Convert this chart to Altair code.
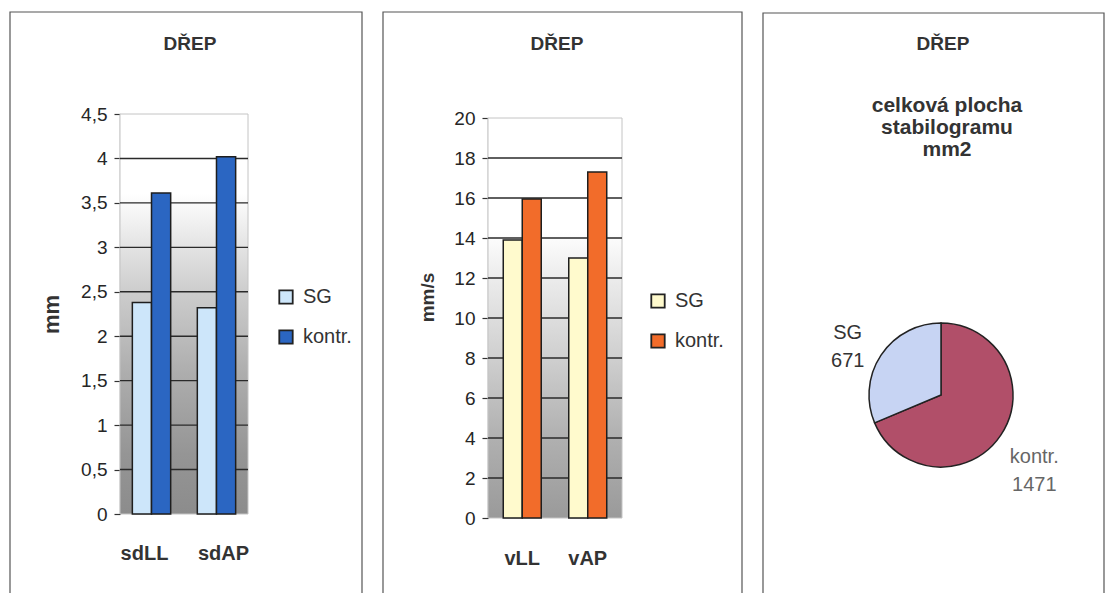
import altair as alt
import pandas as pd

FONT = "Liberation Sans"

# ---------------- data ----------------
series = ["SG", "kontr."]

p1_categories = ["sdLL", "sdAP"]
p1_sg = [2.38, 2.32]
p1_kontr = [3.61, 4.02]
p1_ticks = [0, 0.5, 1, 1.5, 2, 2.5, 3, 3.5, 4, 4.5]
p1_grid = [0.5, 1, 1.5, 2, 2.5, 3, 3.5, 4]

p2_categories = ["vLL", "vAP"]
p2_sg = [13.9, 13.0]
p2_kontr = [15.95, 17.3]
p2_ticks = [0, 2, 4, 6, 8, 10, 12, 14, 16, 18, 20]
p2_grid = [2, 4, 6, 8, 10, 12, 14, 16, 18]

pie_labels = ["kontr.", "SG"]
pie_values = [1471, 671]

panel_title = "DŘEP"
pie_subtitle = "celková plocha\nstabilogramu\nmm2"


def long_df(cats, sg, kontr):
    rows = []
    for c, a, b in zip(cats, sg, kontr):
        rows.append({"cat": c, "series": "SG", "value": a})
        rows.append({"cat": c, "series": "kontr.", "value": b})
    return pd.DataFrame(rows)


one = pd.DataFrame({"a": [0]})


def bar_panel(cats, sg, kontr, ticks, grid, ymax, x0, x1, ybot, ytop,
              pad_in, pad_out, colors, stops, ytitle, ytitle_size, title_x,
              title_y, legend_x, legend_y, label_pad, label_offset=0):
    yscale = alt.Scale(domain=[0, ymax], range=[ybot, ytop], nice=False, zero=True)
    bg = alt.Chart(one).mark_rect(
        color=alt.LinearGradient(
            gradient="linear",
            stops=[alt.GradientStop(offset=o, color=c) for o, c in stops],
            x1=0, x2=0, y1=0, y2=1,
        )
    ).encode(x=alt.value(x0), x2=alt.value(x1), y=alt.value(ytop), y2=alt.value(ybot))
    frame = alt.Chart(one).mark_rect(
        fill=None, stroke="#c4c4c4", strokeWidth=1
    ).encode(x=alt.value(x0), x2=alt.value(x1), y=alt.value(ytop), y2=alt.value(ybot))
    gridl = alt.Chart(pd.DataFrame({"v": grid})).mark_rule(
        color="#2a2a2a", strokeWidth=1.4
    ).encode(
        y=alt.Y("v:Q", scale=yscale, axis=alt.Axis(
            orient="left", offset=-x0, values=ticks,
            labelExpr="replace('' + datum.value, '.', ',')",
            labelFont=FONT, labelFontSize=19, labelColor="#262626",
            tickColor="#333", tickSize=6, tickWidth=1.2, labelPadding=7,
            domainColor="#333", domainWidth=1.2, grid=False,
            title=ytitle, titleFont=FONT, titleFontSize=ytitle_size,
            titleFontWeight="bold", titleColor="#333", titleX=title_x - x0,
            titleY=title_y, titleAngle=270, titleAlign="center",
            titleBaseline="middle",
        )),
        x=alt.value(x0), x2=alt.value(x1),
    )
    if label_offset:
        lab_off = {"condition": {"test": f"datum.value === '{cats[0]}'",
                                 "value": -label_offset},
                   "value": label_offset}
    else:
        lab_off = 0
    bars = alt.Chart(long_df(cats, sg, kontr)).mark_bar(
        stroke="#1e1e1e", strokeWidth=1.5
    ).encode(
        x=alt.X("cat:N", sort=cats, scale=alt.Scale(
            domain=cats, range=[x0, x1], paddingInner=pad_in, paddingOuter=pad_out),
            axis=alt.Axis(orient="bottom", offset=ybot - 593, title=None,
                          ticks=False, tickSize=0, domain=False, labelAngle=0,
                          labelFont=FONT, labelFontSize=20, labelFontWeight="bold",
                          labelColor="#333", labelPadding=label_pad,
                          labelOffset=lab_off)),
        xOffset=alt.XOffset("series:N", sort=series,
                            scale=alt.Scale(domain=series, paddingInner=0, paddingOuter=0)),
        y=alt.Y("value:Q", scale=yscale, axis=None),
        color=alt.Color("series:N", sort=series,
                        scale=alt.Scale(domain=series, range=colors),
                        legend=alt.Legend(
                            orient="none", legendX=legend_x, legendY=legend_y,
                            title=None, symbolType="square", symbolSize=180,
                            symbolStrokeColor="#222", symbolStrokeWidth=1.8,
                            labelFont=FONT, labelFontSize=20, labelColor="#333",
                            labelOffset=7, rowPadding=18)),
    )
    return [bg, frame, gridl, bars]


def border(x0, x1, y0):
    return alt.Chart(one).mark_rect(fill=None, stroke="#555", strokeWidth=1.2).encode(
        x=alt.value(x0), x2=alt.value(x1), y=alt.value(y0), y2=alt.value(640))


def text_at(txt, x, y, size=19, weight="bold", baseline="middle"):
    return alt.Chart(one).mark_text(
        text=txt, font=FONT, fontSize=size, fontWeight=weight, color="#333",
        align="center", baseline=baseline, lineBreak="\n", lineHeight=22,
    ).encode(x=alt.value(x), y=alt.value(y))


layers = []
layers += [border(10, 362, 12), border(383, 742, 12), border(763, 1104, 13)]

layers += bar_panel(
    p1_categories, p1_sg, p1_kontr, p1_ticks, p1_grid, 4.5,
    120, 248, 514, 114, 0.41, 0.19, ["#CDE6FA", "#2B66C2"],
    [(0, "#ffffff"), (0.2, "#ffffff"), (0.32, "#e6e6e6"), (0.45, "#cccccc"),
     (0.65, "#adadad"), (0.85, "#959595"), (1, "#8c8c8c")],
    "mm", 22, 51, 314, 276, 287, 29, label_offset=7,
)
layers += bar_panel(
    p2_categories, p2_sg, p2_kontr, p2_ticks, p2_grid, 20,
    488, 622, 518, 118, 0.42, 0.233, ["#FFFACD", "#F26C2A"],
    [(0, "#ffffff"), (0.28, "#ffffff"), (0.4, "#ececec"), (0.6, "#cfcfcf"),
     (0.8, "#b0b0b0"), (1, "#9a9a9a")],
    "mm/s", 19, 427, 297, 648, 291, 30,
)

layers += [text_at(panel_title, 190, 44), text_at(panel_title, 557, 44),
           text_at(panel_title, 943, 44)]
layers += [text_at(pie_subtitle, 947, 95, size=21, baseline="top")]

pie_df = pd.DataFrame({"cat": pie_labels, "value": pie_values, "ord": [0, 1]})
pie_df["label"] = [f"{c}\n{v}" for c, v in zip(pie_labels, pie_values)]

pie = alt.Chart(pie_df).mark_arc(radius=72, stroke="#222", strokeWidth=1.5).encode(
    theta=alt.Theta("value:Q", stack=True),
    order=alt.Order("ord:Q"),
    color=alt.Color("cat:N", scale=alt.Scale(domain=pie_labels, range=["#B14F69", "#C7D4F3"]),
                    legend=None),
    x=alt.value(941), y=alt.value(395),
)
pie_text = alt.Chart(pie_df).mark_text(
    radius=112, font=FONT, fontSize=20, lineBreak="\n", lineHeight=28,
    align="center", baseline="middle",
).encode(
    theta=alt.Theta("value:Q", stack=True),
    order=alt.Order("ord:Q"),
    text="label:N",
    color=alt.Color("cat:N", scale=alt.Scale(domain=pie_labels, range=["#666666", "#333333"]),
                    legend=None),
    x=alt.value(941), y=alt.value(395),
)
layers += [pie, pie_text]

chart = alt.layer(*layers).resolve_scale(
    x="independent", y="independent", color="independent",
    xOffset="independent", theta="independent",
).resolve_axis(x="independent", y="independent").resolve_legend(
    color="independent"
).properties(
    width=1107, height=593, padding=0,
    autosize=alt.AutoSizeParams(type="none"), background="white",
).configure_view(stroke=None)

chart.save("out.html", embed_options={"renderer": "svg", "actions": False})
